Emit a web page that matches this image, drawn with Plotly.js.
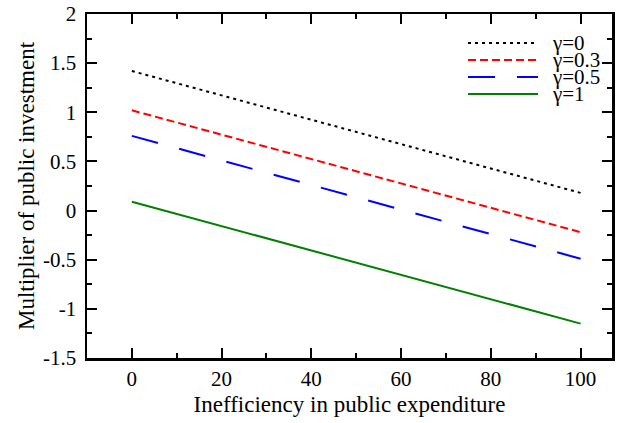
<!DOCTYPE html>
<html>
<head>
<meta charset="utf-8">
<script src="https://cdn.plot.ly/plotly-3.0.1.min.js"></script>
<style>html,body{margin:0;padding:0;background:#fff;}#chart{width:621px;height:423px;}</style>
</head>
<body>
<div id="chart"></div>
<script>
// Data
const inefficiency = [0, 100];
const gamma0   = [1.42, 0.18];
const gamma03  = [1.02, -0.22];
const gamma05  = [0.76, -0.49];
const gamma1   = [0.09, -1.15];
const seriesNames = ['γ=0', 'γ=0.3', 'γ=0.5', 'γ=1'];
const xTicks = [0, 20, 40, 60, 80, 100];
const yTicks = [-1.5, -1, -0.5, 0, 0.5, 1, 1.5, 2];

const font = '"Liberation Serif", "Times New Roman", serif';
const styles = [
  {color: '#000000', width: 2, dash: '3px,4px'},
  {color: '#ff0000', width: 2, dash: '8px,4px'},
  {color: '#0000ff', width: 2, dash: '27px,22px'},
  {color: '#008000', width: 2, dash: 'solid'}
];
const series = [gamma0, gamma03, gamma05, gamma1];
const traces = series.map((ys, i) => ({
  type: 'scatter', mode: 'lines', x: inefficiency, y: ys, name: seriesNames[i],
  line: styles[i], showlegend: false
}));

// custom legend (samples + labels) placed in paper coordinates
const L = 87, W = 525, B = 358, H = 344;
const px = v => (v - L) / W, py = v => (B - v) / H;
const legendY = [43, 60, 77, 94];
const shapes = styles.map((s, i) => ({
  type: 'line', xref: 'paper', yref: 'paper',
  x0: px(468), x1: px(538), y0: py(legendY[i]), y1: py(legendY[i]),
  line: {color: s.color, width: s.width, dash: s.dash}
}));
const annotations = seriesNames.map((n, i) => ({
  xref: 'paper', yref: 'paper', x: px(550), y: py(legendY[i]),
  xanchor: 'left', yanchor: 'middle', text: n, showarrow: false,
  font: {family: font, size: 21, color: '#000'}
}));

const axisCommon = {
  showline: true, linecolor: '#000', linewidth: 2.5, mirror: 'ticks',
  ticks: 'inside', ticklen: 10, tickwidth: 2, tickcolor: '#000',
  showgrid: false, zeroline: false,
  tickfont: {family: font, size: 21, color: '#000'}
};

const layout = {
  width: 621, height: 423,
  margin: {l: 87, r: 9, t: 14, b: 65},
  paper_bgcolor: '#fff', plot_bgcolor: '#fff',
  font: {family: font, color: '#000'},
  showlegend: false,
  shapes: shapes,
  annotations: annotations,
  xaxis: Object.assign({}, axisCommon, {
    range: [-10, 107], tickvals: xTicks, ticktext: xTicks.map(String),
    minor: {dtick: 10, ticks: 'inside', ticklen: 5, tickwidth: 2, tickcolor: '#000'},
    title: {text: 'Inefficiency in public expenditure', font: {family: font, size: 23, color: '#000'}, standoff: 6}
  }),
  yaxis: Object.assign({}, axisCommon, {
    range: [-1.5, 2], tickvals: yTicks, ticktext: yTicks.map(String),
    ticklabelstandoff: 4,
    minor: {dtick: 0.25, tick0: 0, ticks: 'inside', ticklen: 5, tickwidth: 2, tickcolor: '#000'},
    title: {text: 'Multiplier of public investment', font: {family: font, size: 23, color: '#000'}, standoff: 2}
  })
};

Plotly.newPlot('chart', traces, layout, {displayModeBar: false, staticPlot: true});
</script>
</body>
</html>
